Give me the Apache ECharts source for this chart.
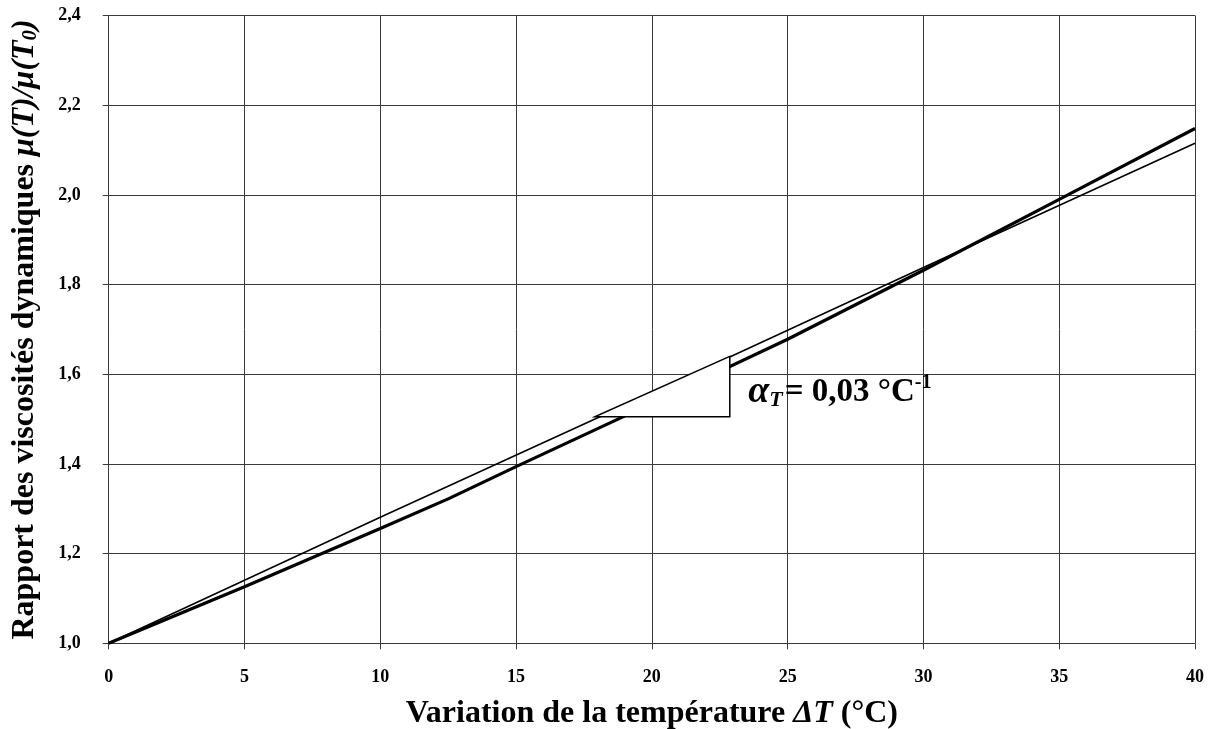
<!DOCTYPE html>
<html>
<head>
<meta charset="utf-8">
<script src="https://cdn.jsdelivr.net/npm/echarts@6/dist/echarts.min.js"></script>
<style>
  html, body { margin: 0; padding: 0; background: #fff; }
  #main { width: 1211px; height: 729px; }
</style>
</head>
<body>
<div id="main"></div>
<script>
// values
var xTicks = [0, 5, 10, 15, 20, 25, 30, 35, 40];
var thickX = [0, 5, 10, 12.5, 15, 20, 25, 30, 35, 40];
var thickY = [1.0, 1.126, 1.256, 1.322, 1.394, 1.535, 1.678, 1.832, 1.99, 2.148];
var thinX = [0, 10, 20, 30, 40];
var thinY = [1.0, 1.281, 1.558, 1.838, 2.115];
// slope triangle (white filled) and its label anchor
var triX = [17.9, 22.87, 22.87];
var triY = [1.505, 1.505, 1.64];
var labelAt = [23.55, 1.56];

var serif = '"Liberation Serif", "DejaVu Serif", serif';
var gridColor = '#3a3a3a';

function pairs(xs, ys) {
    return xs.map(function (x, i) { return [x, ys[i]]; });
}

var chart = echarts.init(document.getElementById('main'));
chart.setOption({
    animation: false,
    backgroundColor: '#fff',
    grid: {
        left: 108.7,
        right: 16,
        top: 15.5,
        bottom: 85.7,
        containLabel: false,
        outerBoundsMode: 'none'
    },
    xAxis: {
        type: 'value',
        min: 0,
        max: 40,
        interval: 5,
        name: '{a|Variation de la température }{i|ΔT}{a| (°C)}',
        nameLocation: 'middle',
        nameGap: 54,
        nameTextStyle: {
            rich: {
                a: { fontFamily: serif, fontWeight: 'bold', fontSize: 32, color: '#000' },
                i: { fontFamily: serif, fontWeight: 'bold', fontStyle: 'italic', fontSize: 32, color: '#000' }
            }
        },
        axisLine: { show: true, lineStyle: { color: gridColor, width: 1 } },
        axisTick: { show: true, inside: false, length: 6, lineStyle: { color: gridColor } },
        axisLabel: {
            margin: 25,
            fontFamily: serif,
            fontWeight: 'bold',
            fontSize: 18,
            color: '#000'
        },
        splitLine: { show: true, lineStyle: { color: gridColor, width: 1 } }
    },
    yAxis: {
        type: 'value',
        min: 1.0,
        max: 2.4,
        interval: 0.2,
        name: '{a|Rapport des viscosités dynamiques }{i|μ(T)/μ(T}{s|0}{i|)}',
        nameLocation: 'middle',
        nameRotate: 90,
        nameGap: 68,
        nameTextStyle: {
            rich: {
                a: { fontFamily: serif, fontWeight: 'bold', fontSize: 32, color: '#000' },
                i: { fontFamily: serif, fontWeight: 'bold', fontStyle: 'italic', fontSize: 32, color: '#000' },
                s: { fontFamily: serif, fontWeight: 'bold', fontStyle: 'italic', fontSize: 21, color: '#000', verticalAlign: 'bottom', padding: [8, 0, 0, 0] }
            }
        },
        axisLine: { show: true, lineStyle: { color: gridColor, width: 1 } },
        axisTick: { show: true, inside: false, length: 6, lineStyle: { color: gridColor } },
        axisLabel: {
            margin: 28,
            fontFamily: serif,
            fontWeight: 'bold',
            fontSize: 18,
            color: '#000',
            formatter: function (v) { return v.toFixed(1).replace('.', ','); }
        },
        splitLine: { show: true, lineStyle: { color: gridColor, width: 1 } }
    },
    series: [
        {
            type: 'line',
            data: pairs(thinX, thinY),
            symbol: 'none',
            lineStyle: { color: '#000', width: 1.6 },
            z: 3
        },
        {
            type: 'line',
            data: pairs(thickX, thickY),
            symbol: 'none',
            lineStyle: { color: '#000', width: 3.2 },
            z: 4
        },
        {
            type: 'custom',
            z: 5,
            data: [0],
            renderItem: function (params, api) {
                var pts = triX.map(function (x, i) { return api.coord([x, triY[i]]); });
                var at = api.coord(labelAt);
                return {
                    type: 'group',
                    children: [
                        {
                            type: 'polygon',
                            shape: { points: pts },
                            style: { fill: '#fff', stroke: '#000', lineWidth: 1.5 }
                        },
                        {
                            type: 'text',
                            x: at[0],
                            y: at[1],
                            style: {
                                text: '{al|α}{t|T}{a|= 0,03 °C}{sup|-1}',
                                verticalAlign: 'middle',
                                rich: {
                                    al: { fontFamily: serif, fontWeight: 'bold', fontStyle: 'italic', fontSize: 38, fill: '#000' },
                                    t: { fontFamily: serif, fontWeight: 'bold', fontStyle: 'italic', fontSize: 22, fill: '#000', verticalAlign: 'bottom', padding: [12, 2, 0, 0] },
                                    a: { fontFamily: serif, fontWeight: 'bold', fontSize: 33, fill: '#000' },
                                    sup: { fontFamily: serif, fontWeight: 'bold', fontSize: 20, fill: '#000', verticalAlign: 'top', padding: [0, 0, 12, 0] }
                                }
                            }
                        }
                    ]
                };
            }
        }
    ]
});
</script>
</body>
</html>
